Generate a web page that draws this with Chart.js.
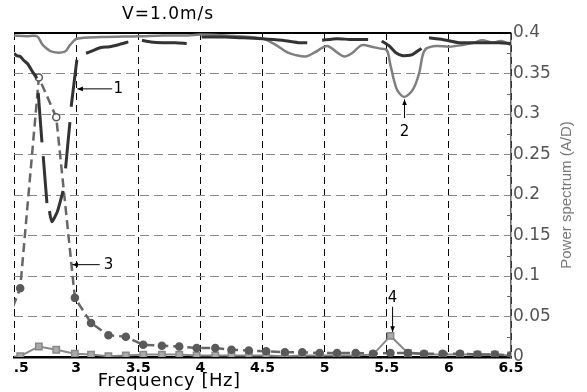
<!DOCTYPE html>
<html>
<head>
<meta charset="utf-8">
<script src="https://cdn.jsdelivr.net/npm/chart.js@4/dist/chart.umd.min.js"></script>
<style>
  html, body { margin: 0; padding: 0; background: #fff; }
  #wrap { width: 587px; height: 392px; }
</style>
</head>
<body>
<div id="wrap"><canvas id="spec" width="587" height="392"></canvas></div>
<script>
// Frequency grid shared by curves 3 and 4 (Hz)
const freq = [2.41, 2.55, 2.70, 2.84, 2.99, 3.12, 3.26, 3.40, 3.54, 3.69, 3.83, 3.97, 4.12, 4.25, 4.39,
              4.53, 4.68, 4.82, 4.96, 5.10, 5.25, 5.39, 5.53, 5.67, 5.80, 5.95, 6.09, 6.23, 6.37, 6.50];
// curve 3 - dashed, circles
const pwr3 = [0.030, 0.085, 0.345, 0.296, 0.073, 0.042, 0.027, 0.025, 0.015, 0.014, 0.013, 0.011, 0.011, 0.009, 0.008,
              0.007, 0.006, 0.006, 0.005, 0.005, 0.005, 0.004, 0.005, 0.005, 0.004, 0.004, 0.004, 0.003, 0.003, 0.002];
// curve 4 - solid, squares
const pwr4 = [0.000, 0.001, 0.013, 0.009, 0.004, 0.003, 0.001, 0.002, 0.003, 0.003, 0.003, 0.002, 0.002, 0.002, 0.002,
              0.002, 0.001, 0.002, 0.002, 0.002, 0.002, 0.003, 0.026, 0.005, 0.003, 0.003, 0.003, 0.003, 0.003, 0.002];

// curve 1 - dark line (null = break in the trace)
const darkX = [2.50, 2.52, 2.55, 2.58, 2.61, 2.65, 2.685, 2.69, 2.695, 2.725, 2.73, 2.735, 2.765, 2.775,
               2.785, 2.805, 2.85, 2.895, 2.90, 2.915, 2.95, 2.955, 2.96, 3.006, 3.04,
               3.08, 3.13, 3.20, 3.27, 3.35, 3.42, 3.47, 3.53, 3.60, 3.70, 3.80, 3.89, 3.95,
               4.01, 4.20, 4.35, 4.50, 4.66, 4.80, 4.86, 4.92, 4.98, 5.10, 5.20, 5.35, 5.40,
               5.46, 5.52, 5.57, 5.63, 5.70, 5.78, 5.81, 5.84, 5.95, 6.08, 6.25, 6.40, 6.50];
const darkY = [0.375, 0.372, 0.371, 0.366, 0.362, 0.352, 0.344, null, 0.326, 0.265, null, 0.248, 0.190, null,
               0.180, 0.167, 0.180, 0.205, null, 0.233, 0.290, null, 0.309, 0.367, null,
               0.375, 0.378, 0.382, 0.383, 0.386, 0.389, null, 0.391, 0.389, 0.388, 0.388, 0.387, null,
               0.395, 0.395, 0.394, 0.393, 0.391, 0.388, 0.388, null, 0.391, 0.393, 0.392, 0.392, null,
               0.390, 0.384, 0.376, 0.372, 0.373, 0.381, null, 0.394, 0.392, 0.388, 0.388, 0.388, 0.387];

// curve 2 - grey line
const grayX = [2.50, 2.60, 2.685, 2.733, 2.805, 2.91, 2.95, 3.006, 3.20, 3.50, 3.70, 3.90, 4.00, 4.20, 4.40, 4.50,
               4.60, 4.70, 4.76, 4.85, 4.92, 5.02, 5.10, 5.16, 5.22, 5.30, 5.38, 5.44, 5.50, 5.53, 5.58, 5.64,
               5.71, 5.76, 5.79, 5.82, 5.90, 6.00, 6.10, 6.20, 6.27, 6.35, 6.42, 6.50];
const grayY = [0.397, 0.396, 0.396, 0.385, 0.377, 0.377, 0.385, 0.393, 0.395, 0.396, 0.397, 0.397, 0.398, 0.397, 0.395, 0.393,
               0.386, 0.376, 0.373, 0.371, 0.376, 0.384, 0.376, 0.371, 0.375, 0.385, 0.383, 0.381, 0.379, 0.360, 0.331, 0.321,
               0.330, 0.350, 0.373, 0.381, 0.384, 0.383, 0.385, 0.388, 0.391, 0.388, 0.390, 0.385];

// numbered call-outs (label, text pos, arrow tail, arrow head) in data units
const noteText  = ['1', '2', '3', '4'];
const noteX     = [3.34, 5.643, 3.26, 5.547];
const noteY     = [0.331, 0.278, 0.114, 0.073];
const tailX     = [3.29, 5.643, 3.19, 5.547];
const tailY     = [0.331, 0.295, 0.114, 0.062];
const headX     = [3.01, 5.643, 2.97, 5.547];
const headY     = [0.331, 0.318, 0.114, 0.031];

const xTicks = [2.5, 3, 3.5, 4, 4.5, 5, 5.5, 6, 6.5];

const pts = (xs, ys) => xs.map((x, i) => ({ x: x, y: ys[i] }));

// hollow markers on the two high points of curve 3
const c3Fill = pwr3.map(v => v > 0.2 ? '#ffffff' : '#5a5a5a');

const textPlugin = {
  id: 'texts',
  beforeDatasetsDraw(chart) {
    const { ctx, chartArea: a, scales: { y } } = chart;
    ctx.save();
    // top frame line
    ctx.strokeStyle = '#000';
    ctx.lineWidth = 2;
    ctx.beginPath();
    ctx.moveTo(a.left, a.top);
    ctx.lineTo(a.right, a.top);
    ctx.stroke();
    // minor ticks on the right axis
    ctx.strokeStyle = '#666';
    ctx.lineWidth = 1;
    for (let v = 0.025; v < 0.4; v += 0.05) {
      const py = Math.round(y.getPixelForValue(v)) + 0.5;
      ctx.beginPath();
      ctx.moveTo(a.right - 4, py);
      ctx.lineTo(a.right, py);
      ctx.stroke();
    }
    ctx.restore();
  },
  afterDraw(chart) {
    const { ctx, chartArea: a, scales: { x, y } } = chart;
    ctx.save();
    ctx.fillStyle = '#000';
    ctx.textAlign = 'center';
    ctx.textBaseline = 'middle';
    const midX = a.left + (a.right - a.left) * 0.31;

    ctx.font = '17px "DejaVu Sans"';
    ctx.letterSpacing = '1px';
    ctx.fillText('V=1.0m/s', midX, a.top - 18);

    ctx.font = '18px "DejaVu Sans"';
    ctx.letterSpacing = '0.5px';
    ctx.fillText('Frequency [Hz]', midX + 1, a.bottom + 24);

    ctx.letterSpacing = '0px';
    ctx.font = '15px "Liberation Sans", Arial';
    ctx.fillStyle = '#777';
    ctx.translate(a.right + 56, (a.top + a.bottom) / 2);
    ctx.rotate(-Math.PI / 2);
    ctx.fillText('Power spectrum (A/D)', 0, 0);
    ctx.restore();

    // call-outs
    ctx.save();
    ctx.fillStyle = '#000';
    ctx.strokeStyle = '#000';
    ctx.lineWidth = 1;
    ctx.font = '15px "DejaVu Sans"';
    ctx.textAlign = 'center';
    ctx.textBaseline = 'middle';
    noteText.forEach((t, i) => {
      ctx.fillText(t, x.getPixelForValue(noteX[i]), y.getPixelForValue(noteY[i]));
      const x0 = x.getPixelForValue(tailX[i]), y0 = y.getPixelForValue(tailY[i]);
      const x1 = x.getPixelForValue(headX[i]), y1 = y.getPixelForValue(headY[i]);
      ctx.beginPath();
      ctx.moveTo(x0, y0);
      ctx.lineTo(x1, y1);
      ctx.stroke();
      const ang = Math.atan2(y1 - y0, x1 - x0);
      ctx.beginPath();
      ctx.moveTo(x1, y1);
      ctx.lineTo(x1 - 6 * Math.cos(ang - 0.4), y1 - 6 * Math.sin(ang - 0.4));
      ctx.lineTo(x1 - 6 * Math.cos(ang + 0.4), y1 - 6 * Math.sin(ang + 0.4));
      ctx.closePath();
      ctx.fill();
    });
    ctx.restore();
  }
};

new Chart(document.getElementById('spec'), {
  type: 'line',
  data: {
    datasets: [
      {
        label: '1',
        data: pts(darkX, darkY),
        borderColor: '#333',
        borderWidth: 3,
        pointRadius: 0,
        tension: 0.2,
        spanGaps: false
      },
      {
        label: '2',
        data: pts(grayX, grayY),
        borderColor: '#7f7f7f',
        borderWidth: 2.5,
        pointRadius: 0,
        tension: 0.3
      },
      {
        label: '3',
        data: pts(freq, pwr3),
        borderColor: '#666',
        borderWidth: 2.5,
        borderDash: [9, 5],
        pointStyle: 'circle',
        pointRadius: 3.5,
        pointBackgroundColor: c3Fill,
        pointBorderColor: '#5a5a5a',
        pointBorderWidth: 1.5,
        tension: 0
      },
      {
        label: '4',
        data: pts(freq, pwr4),
        borderColor: '#888',
        borderWidth: 2,
        pointStyle: 'rect',
        pointRadius: 4.5,
        pointBackgroundColor: '#aaa',
        pointBorderColor: '#888',
        pointBorderWidth: 1.5,
        tension: 0
      }
    ]
  },
  options: {
    responsive: false,
    animation: false,
    devicePixelRatio: 1,
    layout: { padding: { left: 14, top: 33, right: 0, bottom: 0 } },
    plugins: {
      legend: { display: false },
      tooltip: { enabled: false },
      title: { display: false }
    },
    scales: {
      x: {
        type: 'linear',
        min: 2.5,
        max: 6.5,
        afterBuildTicks: s => { s.ticks = xTicks.map(v => ({ value: v })); },
        afterFit: s => { s.height = 35; s.paddingLeft = 0; s.paddingRight = 0; },
        ticks: {
          autoSkip: false,
          maxRotation: 0,
          padding: 3,
          color: '#000',
          font: { family: 'DejaVu Sans', weight: 'bold', size: 14 },
          callback: v => v === 2.5 ? '\u2007 .5' : String(v)
        },
        grid: { color: '#000', lineWidth: 1, drawTicks: false },
        border: { color: '#000', width: 2.5, dash: [7, 5] }
      },
      y: {
        position: 'right',
        min: 0,
        max: 0.4,
        afterFit: s => { s.width = 76; s.paddingTop = 0; s.paddingBottom = 0; },
        ticks: {
          stepSize: 0.05,
          padding: 2,
          color: '#555',
          font: { family: 'DejaVu Sans', size: 17 },
          callback: v => String(+v.toFixed(2))
        },
        grid: { color: '#888', lineWidth: 1, drawTicks: false },
        border: { color: '#666', width: 1.5, dash: [9, 5] }
      }
    }
  },
  plugins: [textPlugin]
});
</script>
</body>
</html>
